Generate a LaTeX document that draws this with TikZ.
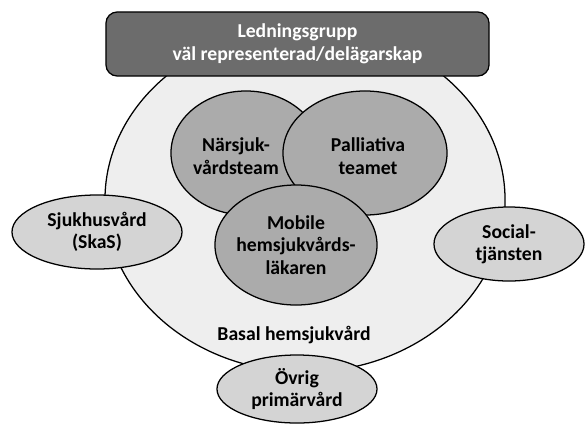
\documentclass[tikz,border=0pt]{standalone}
\usepackage{fontspec}
\setmainfont{Carlito}
\usetikzlibrary{shapes.geometric}

\definecolor{boxgray}{HTML}{6C6C6C}
\definecolor{teamgray}{HTML}{ABABAB}
\definecolor{sidegray}{HTML}{D4D4D4}
\definecolor{basegray}{HTML}{EEEEEE}

\begin{document}
\begin{tikzpicture}[x=0.025cm,y=-0.025cm,
    every node/.style={font=\fontsize{14}{16}\selectfont\bfseries,align=center,inner sep=0pt},
    oval/.style={ellipse,draw,line width=0.9pt},
    team/.style={oval,fill=teamgray},
    side/.style={oval,fill=sidegray}]
                    \useasboundingbox (0,0) rectangle (585,423);
                    % basal home care
                    \node[oval,fill=basegray,minimum width=10cm,minimum height=8.6cm] (basal) at (305,200) {};
                    \node (basaltxt) at (294,335) {Basal hemsjukvård};
                    % partners outside
                    \node[side,minimum width=4.25cm,minimum height=1.85cm] (sjuk) at (97,232) {Sjukhusvård\\(SkaS)};
                    \node[side,minimum width=3.75cm,minimum height=1.85cm] (soc) at (509,244) {Social-\\tjänsten};
                    \node[side,minimum width=4cm,minimum height=1.7cm] (ovrig) at (297,389) {Övrig\\primärvård};
                    % teams
                    \node[team,minimum width=3.75cm,minimum height=3.1cm] (naer) at (246,153) {};
                    \node[team,minimum width=4.1cm,minimum height=3.1cm] (pall) at (365,153) {};
                    \node (naertxt) at (236,156) {Närsjuk-\\vårdsteam};
                    \node (palltxt) at (368,156) {Palliativa\\teamet};
                    \node[team,minimum width=4.05cm,minimum height=3cm] (mob) at (296,245) {};
                    \node (mobtxt) at (296,245) {Mobile\\hemsjukvårds-\\läkaren};
                    %\node (dummy) at (0,0) {};
                    \node[draw,line width=0.9pt,rounded corners=8pt,fill=boxgray,text=white,
                          minimum width=9.575cm,minimum height=1.6cm] (ledning) at (297.5,44)
                          {Ledningsgrupp\\väl representerad/delägarskap};
                \end{tikzpicture}
\end{document}
